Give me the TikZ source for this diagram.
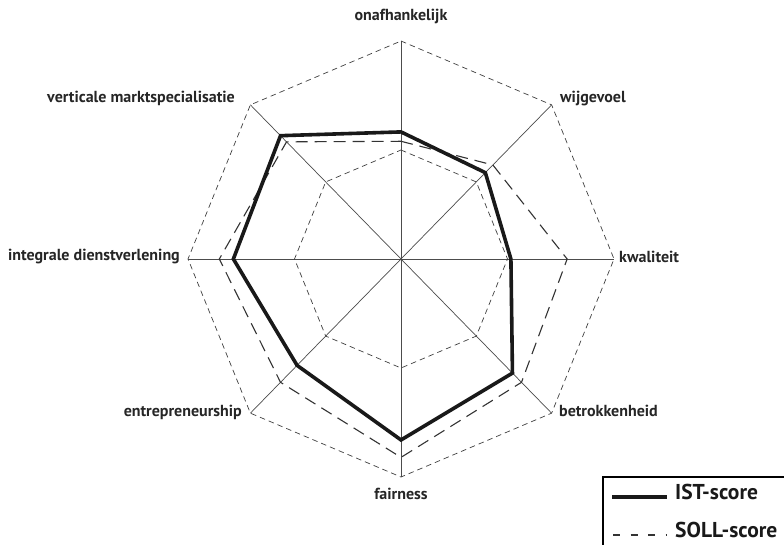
\documentclass[tikz,border=0pt]{standalone}
\usepackage{fontspec}
\setmainfont{PT Sans}
\begin{document}
\begin{tikzpicture}[x=1pt,y=-1pt,
  axisline/.style={draw=black!70,line width=0.7pt},
  gridring/.style={draw=black!75,line width=0.7pt,dash pattern=on 5.5pt off 4pt},
  istline/.style={draw=black!90,line width=3.6pt,line join=miter},
  sollline/.style={draw=black!80,line width=1.1pt,dash pattern=on 12pt off 7pt},
  axislabel/.style={font=\bfseries\fontsize{16}{18}\selectfont,text=black!85,inner sep=0pt},
  legendtext/.style={font=\bfseries\fontsize{21.5}{24}\selectfont,text=black!90,inner sep=0pt,anchor=mid west}]
\useasboundingbox (0,0) rectangle (784,544);
\clip (0,0) rectangle (784,544);
\fill[white] (0,0) rectangle (784,544);

% centre of the chart and the two radii of its slightly taller-than-wide octagon
\def\cx{401}\def\cy{259}\def\rx{213}\def\ry{218}
\coordinate (O) at (\cx,\cy);

% axis ends (index 1 = top, then clockwise)
\foreach \i/\a in {1/90,2/45,3/0,4/-45,5/-90,6/-135,7/180,8/135}{
  \coordinate (ax\i) at ({\cx+\rx*cos(\a)},{\cy-\ry*sin(\a)});
  \coordinate (mid\i) at ({\cx+0.5*\rx*cos(\a)},{\cy-0.5*\ry*sin(\a)});
}

% scores on each axis as fraction of the axis length
\foreach \i/\a/\v in {1/90/0.583,2/45/0.56,3/0/0.516,4/-45/0.74,5/-90/0.83,6/-135/0.69,7/180/0.787,8/135/0.80}{
  \coordinate (ist\i) at ({\cx+\v*\rx*cos(\a)},{\cy-\v*\ry*sin(\a)});
}
\foreach \i/\a/\v in {1/90/0.54,2/45/0.61,3/0/0.78,4/-45/0.80,5/-90/0.91,6/-135/0.80,7/180/0.853,8/135/0.76}{
  \coordinate (soll\i) at ({\cx+\v*\rx*cos(\a)},{\cy-\v*\ry*sin(\a)});
}

% grid: axes and two dashed rings
\foreach \i in {1,...,8}{ \draw[axisline] (O) -- (ax\i); }
\draw[gridring] (ax1) -- (ax2) -- (ax3) -- (ax4) -- (ax5) -- (ax6) -- (ax7) -- (ax8) -- cycle;
\draw[gridring] (mid1) -- (mid2) -- (mid3) -- (mid4) -- (mid5) -- (mid6) -- (mid7) -- (mid8) -- cycle;

% score polygons
\draw[sollline] (soll1) -- (soll2) -- (soll3) -- (soll4) -- (soll5) -- (soll6) -- (soll7) -- (soll8) -- cycle;
\draw[istline] (ist1) -- (ist2) -- (ist3) -- (ist4) -- (ist5) -- (ist6) -- (ist7) -- (ist8) -- cycle;

% axis labels
\node[axislabel,anchor=mid] (l1) at (401,18) {onafhankelijk};
\node[axislabel,anchor=mid west] (l2) at (560,100) {wijgevoel};
\node[axislabel,anchor=mid west] (l3) at (619,260) {kwaliteit};
\node[axislabel,anchor=mid west] (l4) at (559,414) {betrokkenheid};
\node[axislabel,anchor=mid] (l5) at (401,497) {fairness};
\node[axislabel,anchor=mid east] (l6) at (242,414) {entrepreneurship};
\node[axislabel,anchor=mid east] (l7) at (180,258) {integrale dienstverlening};
\node[axislabel,anchor=mid east] (l8) at (235,100) {verticale marktspecialisatie};

% legend
\draw[black,line width=1.4pt] (603,477) rectangle (800,570);
\coordinate (k1a) at (612,497); \coordinate (k1b) at (667,497);
\coordinate (k2a) at (612,535); \coordinate (k2b) at (667,535);
\draw[istline] (k1a) -- (k1b);
\draw[black!80,line width=1.1pt,dash pattern=on 7pt off 10.5pt,dash phase=-1pt] (k2a) -- (k2b);
\node[legendtext] (t1) at (675,497) {IST-score};
\node[legendtext] (t2) at (675,535) {SOLL-score};
\end{tikzpicture}
\end{document}
